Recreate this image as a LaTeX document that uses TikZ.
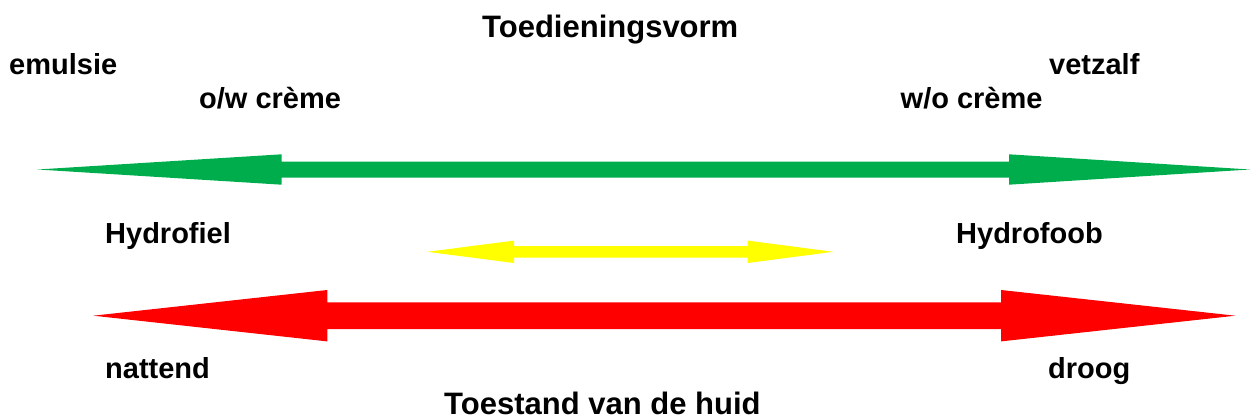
\documentclass[tikz,border=0pt]{standalone}
\usepackage{fontspec}
\setmainfont{Liberation Sans}
\definecolor{arrgreen}{RGB}{0,173,77}
\definecolor{arrred}{RGB}{255,0,0}
\definecolor{arryellow}{RGB}{255,255,0}
\tikzset{
  lbl/.style={anchor=base west, inner sep=0pt, font=\fontsize{29}{34}\selectfont\bfseries},
  ttl/.style={anchor=base west, inner sep=0pt, font=\fontsize{31}{36}\selectfont\bfseries},
}
\newcommand{\dblarrow}[9]{%
  % #1 colour, #2 left tip x, #3 left base x, #4 right base x, #5 right tip x,
  % #6 centre y, #7 shaft half width, #8 head half width, #9 unused
  \fill[#1] (#2,#6) -- (#3,#6-#8) -- (#3,#6-#7) -- (#4,#6-#7) -- (#4,#6-#8) -- (#5,#6)
    -- (#4,#6+#8) -- (#4,#6+#7) -- (#3,#6+#7) -- (#3,#6+#8) -- cycle;}
\begin{document}
\begin{tikzpicture}[x=1pt,y=-1pt]
\useasboundingbox (0,0) rectangle (1250,417);
\dblarrow{arrgreen}{37.5}{281.7}{1009}{1250}{169.5}{8}{15.2}{}
\dblarrow{arryellow}{427.3}{514}{747.7}{833.3}{251.8}{5.8}{11.2}{}
\dblarrow{arrred}{93.3}{327.3}{1001}{1235.3}{315.7}{13.3}{25.7}{}
\node[ttl] (t1) at (482,37.3) {Toedieningsvorm};
\node[lbl] (emu) at (9,75) {emulsie};
\node[lbl] (ow) at (199,108.8) {o/w crème};
\node[lbl] (vet) at (1049,74.5) {vetzalf};
\node[lbl] (wo) at (900.5,108.5) {w/o crème};
\node[lbl] (hfi) at (105,243.3) {Hydrofiel};
\node[lbl] (hfo) at (956,243.3) {Hydrofoob};
\node[lbl] (nat) at (105,378.3) {nattend};
\node[lbl] (dro) at (1048,378.3) {droog};
\node[ttl] (t2) at (444,414) {Toestand van de huid};
\end{tikzpicture}
\end{document}
